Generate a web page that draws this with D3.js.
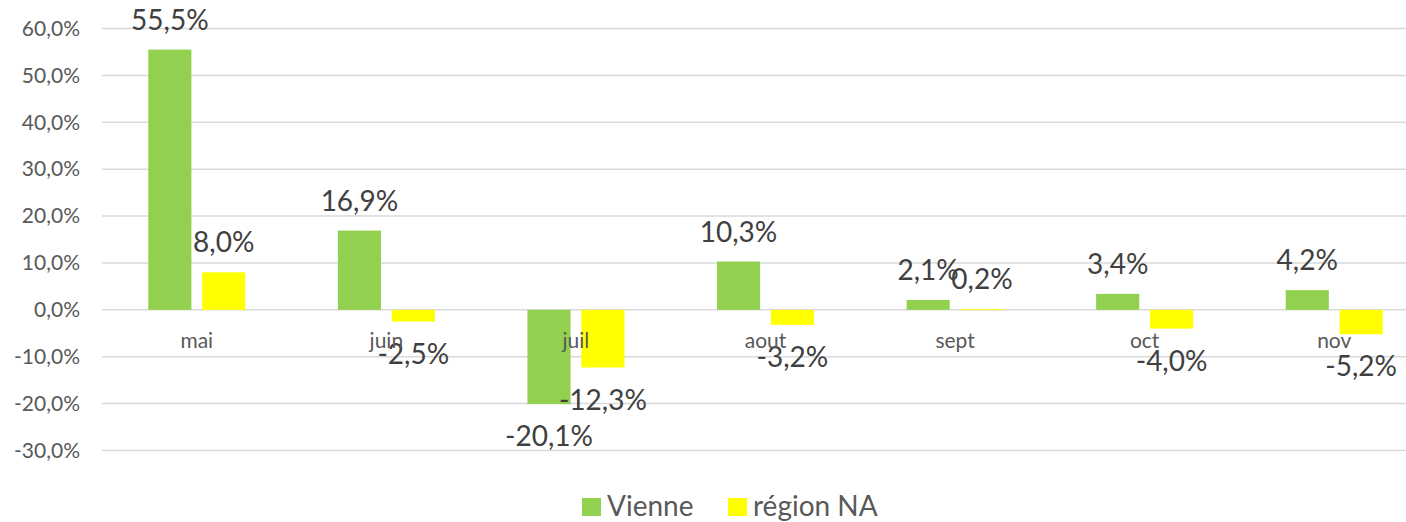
<!DOCTYPE html>
<html><head><meta charset="utf-8">
<script src="https://cdn.jsdelivr.net/npm/d3@7"></script>
<style>body{margin:0;background:#fff}svg{display:block}text{font-family:Lato,"Open Sans",sans-serif}</style>
</head><body><svg id="c" width="1406" height="522"></svg>
<script>
const categories = ["mai","juin","juil","aout","sept","oct","nov"];
const seriesNames = ["Vienne","région NA"];
const vienne = [55.5, 16.9, -20.1, 10.3, 2.1, 3.4, 4.2];
const regionNA = [8.0, -2.5, -12.3, -3.2, 0.2, -4.0, -5.2];
const yTicks = [-30,-20,-10,0,10,20,30,40,50,60];
const colors = ["#92d050","#ffff00"];

const svg = d3.select("#c");
const x0 = d3.scaleBand().domain(categories).range([102,1429]).padding(0);
const bw = x0.bandwidth();
const x1 = d3.scaleBand().domain(seriesNames).range([bw/2-48.5, bw/2+48.5]).paddingInner(0.2);
const y = d3.scaleLinear().domain([-30,60]).range([450.5,28.5]);
const fmt = v => v.toFixed(1).replace(".", ",") + "%";

// gridlines
svg.append("g").selectAll("line").data(yTicks).join("line")
  .attr("x1",102).attr("x2",1406).attr("y1",d=>y(d)).attr("y2",d=>y(d))
  .attr("stroke","#d9d9d9").attr("stroke-width",1.5);

// y axis
const yAxis = d3.axisLeft(y).tickValues(yTicks).tickSize(0).tickPadding(0).tickFormat(fmt);
const ga = svg.append("g").attr("transform","translate(80,0)").call(yAxis);
ga.select(".domain").remove();
ga.selectAll("text").attr("font-size",21).attr("fill","#595959").attr("font-family","Lato");

const data = categories.map((c,i)=>({c, vals:[vienne[i], regionNA[i]]}));

const groups = svg.append("g").selectAll("g").data(data).join("g")
  .attr("transform",d=>`translate(${x0(d.c)},0)`);

groups.selectAll("rect").data(d=>d.vals.map((v,j)=>({s:seriesNames[j], v, j}))).join("rect")
  .attr("x",d=>x1(d.s)).attr("width",x1.bandwidth())
  .attr("y",d=>y(Math.max(0,d.v))).attr("height",d=>Math.abs(y(d.v)-y(0)))
  .attr("fill",d=>colors[d.j]);

// category labels
svg.append("g").selectAll("text").data(categories).join("text")
  .attr("x",d=>x0(d)+bw/2).attr("y",348).attr("text-anchor","middle")
  .attr("font-size",21).attr("fill","#595959").text(d=>d);

// value labels
groups.selectAll("text.v").data(d=>d.vals.map((v,j)=>({s:seriesNames[j], v, j}))).join("text")
  .attr("class","v")
  .attr("x",d=>x1(d.s)+x1.bandwidth()/2)
  .attr("y",d=>d.v>=0 ? y(d.v)-20 : y(d.v)+42)
  .attr("text-anchor","middle").attr("font-size",28).attr("fill","#404040")
  .text(d=>fmt(d.v));

// legend
const leg = svg.append("g");
const legX = [582, 728];
seriesNames.forEach((s,i)=>{
  leg.append("rect").attr("x",legX[i]).attr("y",498).attr("width",19).attr("height",18).attr("fill",colors[i]);
  leg.append("text").attr("x",legX[i]+25).attr("y",516).attr("font-size",28).attr("fill","#595959").text(s);
});
</script></body></html>
